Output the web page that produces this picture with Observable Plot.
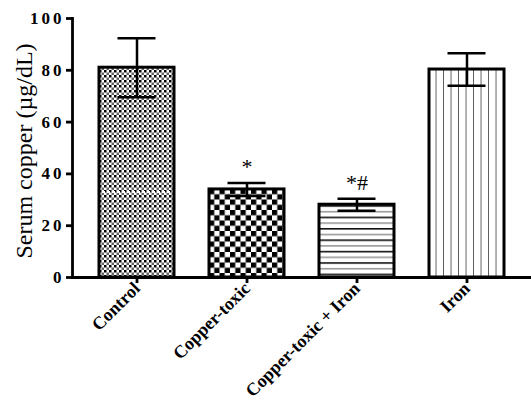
<!DOCTYPE html>
<html>
<head>
<meta charset="utf-8">
<script src="https://cdn.jsdelivr.net/npm/d3@7"></script>
<script src="https://cdn.jsdelivr.net/npm/@observablehq/plot@0.6"></script>
<style>
  html, body { margin: 0; padding: 0; background: #fff; }
  svg { display: block; }
</style>
</head>
<body>
<div id="chart"></div>
<script>
const groups = ["Control", "Copper-toxic", "Copper-toxic + Iron", "Iron"];
const means = [81.0, 34.0, 28.1, 80.3];
const sds = [11.4, 2.5, 2.3, 6.3];
const signif = ["", "*", "*#", ""];
const yTicks = [0, 20, 40, 60, 80, 100];
const yLabel = "Serum copper (µg/dL)";
const dashedArtifact = [{group: "Control", y: 33}];

const data = groups.map((g, i) => ({group: g, mean: means[i], sd: sds[i], sig: signif[i]}));
const patIds = ["pat-control", "pat-copper", "pat-copiron", "pat-iron"];
const font = "'Liberation Serif', 'Times New Roman', serif";

const chart = Plot.plot({
  width: 531,
  height: 403,
  marginLeft: 72,
  marginRight: 0,
  marginTop: 18,
  marginBottom: 126,
  style: {fontFamily: font, background: "#fff", color: "#000", overflow: "visible"},
  x: {domain: groups, paddingInner: 0.32, paddingOuter: 0.23, axis: null},
  y: {domain: [0, 100], axis: null},
  marks: [
    ...data.map((d, i) => Plot.barY([d], {x: "group", y: "mean", fill: `url(#${patIds[i]})`, stroke: "#000", strokeWidth: 3})),
    Plot.tickY(dashedArtifact, {x: "group", y: "y", stroke: "#fff", strokeWidth: 2, strokeDasharray: "3,2", insetLeft: 3, insetRight: 3}),
    Plot.ruleX(data, {x: "group", y1: d => d.mean - d.sd, y2: d => d.mean + d.sd, stroke: "#000", strokeWidth: 2.5}),
    Plot.tickY(data, {x: "group", y: d => d.mean + d.sd, stroke: "#000", strokeWidth: 2.5, insetLeft: 18.5, insetRight: 18.5}),
    Plot.tickY(data, {x: "group", y: d => d.mean - d.sd, stroke: "#000", strokeWidth: 2.5, insetLeft: 18.5, insetRight: 18.5}),
    Plot.text(data, {x: "group", y: d => d.mean + d.sd, text: "sig", dy: -9, lineAnchor: "bottom", fontSize: 22, fill: "#000"}),
    Plot.axisY({ticks: yTicks, tickSize: 6, tickPadding: 2, strokeWidth: 2.8, fontWeight: "bold", label: null}),
    Plot.axisX({tickSize: 6, tickPadding: 2, strokeWidth: 2.8, fontWeight: "bold", tickRotate: -45, label: null}),
    Plot.frame({anchor: "left", stroke: "#000", strokeWidth: 2.8}),
    Plot.ruleY([0], {stroke: "#000", strokeWidth: 2.8}),
    Plot.text([yLabel], {frameAnchor: "left", textAnchor: "middle", rotate: -90, dx: -48, dy: 3, fontSize: 24, fill: "#000"})
  ]
});

const svg = d3.select(chart);
// tick label typography
const yTickStrings = yTicks.map(String);
svg.selectAll("text").each(function () {
  const t = this.textContent;
  if (groups.includes(t)) {
    d3.select(this).style("font-size", "18px").style("font-weight", "bold");
  } else if (yTickStrings.includes(t)) {
    d3.select(this).style("font-size", "17px").style("font-weight", "bold").style("letter-spacing", "3px");
  }
});

// patterns
const defs = svg.insert("defs", ":first-child");
const xs = chart.scale("x");
const bx = g => xs.apply(g);

// Control: fine black/gray checker
{
  const p = defs.append("pattern").attr("id", patIds[0]).attr("patternUnits", "userSpaceOnUse")
    .attr("x", bx(groups[0])).attr("y", 0).attr("width", 5).attr("height", 5);
  p.append("rect").attr("width", 5).attr("height", 5).attr("fill", "#fff");
  p.append("rect").attr("x", 0).attr("y", 0).attr("width", 2.5).attr("height", 2.5).attr("fill", "#000");
  p.append("rect").attr("x", 2.5).attr("y", 2.5).attr("width", 2.5).attr("height", 2.5).attr("fill", "#666");
}
// Copper-toxic: checkerboard
{
  const p = defs.append("pattern").attr("id", patIds[1]).attr("patternUnits", "userSpaceOnUse")
    .attr("x", bx(groups[1])).attr("y", 0).attr("width", 10.5).attr("height", 10.5);
  p.append("rect").attr("width", 10.5).attr("height", 10.5).attr("fill", "#fff");
  p.append("rect").attr("x", 0).attr("y", 0).attr("width", 5.25).attr("height", 5.25).attr("fill", "#000");
  p.append("rect").attr("x", 5.25).attr("y", 5.25).attr("width", 5.25).attr("height", 5.25).attr("fill", "#000");
}
// Copper-toxic + Iron: horizontal lines
{
  const p = defs.append("pattern").attr("id", patIds[2]).attr("patternUnits", "userSpaceOnUse")
    .attr("x", 0).attr("y", 0).attr("width", 10).attr("height", 11.4);
  p.append("rect").attr("width", 10).attr("height", 11.4).attr("fill", "#fff");
  p.append("rect").attr("x", 0).attr("y", 0).attr("width", 10).attr("height", 1.6).attr("fill", "#111");
  p.append("rect").attr("x", 0).attr("y", 5.7).attr("width", 10).attr("height", 1.6).attr("fill", "#999");
}
// Iron: vertical lines
{
  const p = defs.append("pattern").attr("id", patIds[3]).attr("patternUnits", "userSpaceOnUse")
    .attr("x", bx(groups[3])).attr("y", 0).attr("width", 7.5).attr("height", 10);
  p.append("rect").attr("width", 7.5).attr("height", 10).attr("fill", "#fff");
  p.append("rect").attr("x", 6.8).attr("y", 0).attr("width", 1.5).attr("height", 10).attr("fill", "#222");
}

document.getElementById("chart").appendChild(chart);
</script>
</body>
</html>
